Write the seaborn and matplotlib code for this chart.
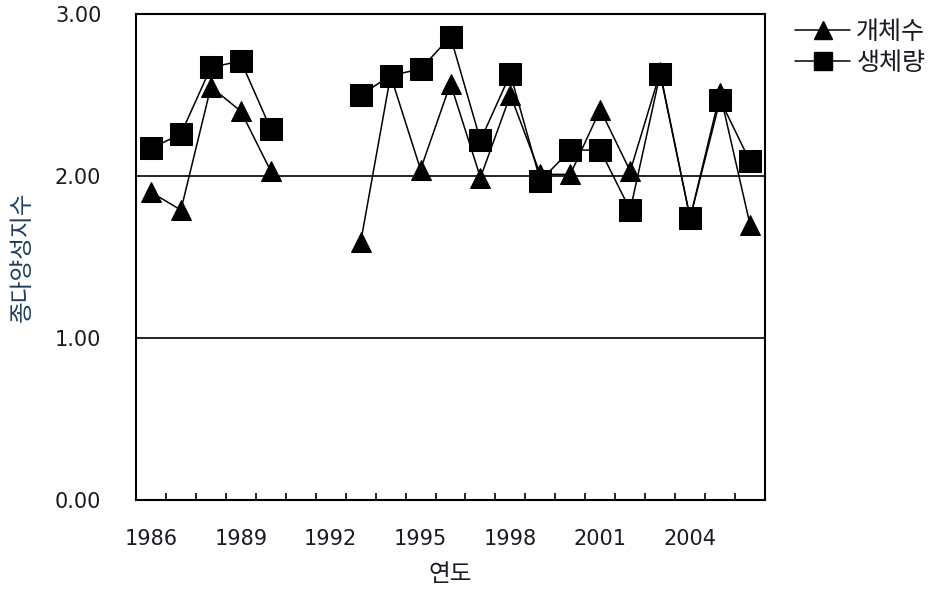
import numpy as np
import pandas as pd
import matplotlib
matplotlib.use("Agg")
import matplotlib.pyplot as plt
import seaborn as sns
from matplotlib.lines import Line2D

years = list(range(1986, 2007))
abundance = [1.90, 1.79, 2.55, 2.40, 2.03, np.nan, np.nan, 1.59, 2.62, 2.04, 2.57,
             1.99, 2.50, 2.01, 2.01, 2.41, 2.03, 2.64, 1.74, 2.51, 1.70]
biomass = [2.17, 2.26, 2.67, 2.71, 2.29, np.nan, np.nan, 2.50, 2.62, 2.66, 2.86,
           2.22, 2.63, 1.97, 2.16, 2.16, 1.79, 2.63, 1.74, 2.47, 2.09]
series_names = ["개체수", "생체량"]
x_tick_labels = ["1986", "1989", "1992", "1995", "1998", "2001", "2004"]
y_ticks = [0.0, 1.0, 2.0, 3.0]

sns.set_theme(style="white")
plt.rcParams['font.family'] = ['Noto Sans CJK KR', 'DejaVu Sans']

rows = []
for name, vals in zip(series_names, [abundance, biomass]):
    seg = 0
    prev_nan = False
    for y, v in zip(years, vals):
        if np.isnan(v):
            prev_nan = True
            continue
        if prev_nan:
            seg += 1
            prev_nan = False
        rows.append({"year": y, "value": v, "series": name, "seg": seg})
df = pd.DataFrame(rows)

fig = plt.figure(figsize=(9.41, 5.91), dpi=100)
ax = fig.add_axes([136/941, 91/591, 629/941, 486/591])

for name, mk, ms in [("개체수", "^", 15), ("생체량", "s", 16)]:
    sub = df[df["series"] == name]
    sns.lineplot(data=sub, x="year", y="value", units="seg", estimator=None,
                 color="black", marker=mk, markersize=ms, markeredgecolor="black",
                 markerfacecolor="black", linewidth=1.1, ax=ax, legend=False)

ax.set_xlim(1985.5, 2006.5)
ax.set_ylim(0, 3)
for g in [1.0, 2.0]:
    ax.axhline(g, color="black", linewidth=1.2, zorder=0)

num_font = dict(family="DejaVu Sans", size=15)
ax.set_xticks([int(t) for t in x_tick_labels])
ax.set_xticklabels(x_tick_labels, fontdict=num_font)
ax.set_xticks(np.arange(1986.5, 2006.0, 1.0), minor=True)
ax.tick_params(axis="x", which="major", length=0, pad=21, colors="#1a1a24")
ax.tick_params(axis="x", which="minor", direction="in", length=5, width=1.2, color="black", bottom=True)
ax.set_yticks(y_ticks)
ax.set_yticklabels([f"{t:.2f}" for t in y_ticks], fontdict=num_font)
ax.tick_params(axis="y", which="major", length=0, pad=25, colors="#1a1a24")

for s in ax.spines.values():
    s.set_color("black")
    s.set_linewidth(1.5)
    s.set_visible(True)

ax.set_xlabel("연도", fontsize=17, color="#1a1a24", labelpad=10)
ax.set_ylabel("종다양성지수", fontsize=17, color="#1f3d5c", labelpad=15)

handles = [Line2D([], [], color="black", marker="^", markersize=13, linewidth=1.1),
           Line2D([], [], color="black", marker="s", markersize=13, linewidth=1.1)]
leg = fig.legend(handles, series_names, loc="upper left", bbox_to_anchor=(795/941, 1 - 19/591),
                 frameon=False, fontsize=18, handlelength=2.2, handletextpad=0.25,
                 labelspacing=0.2, borderaxespad=0, borderpad=0)
for t in leg.get_texts():
    t.set_color("#1a1a24")

fig.savefig("out.png", dpi=100)
